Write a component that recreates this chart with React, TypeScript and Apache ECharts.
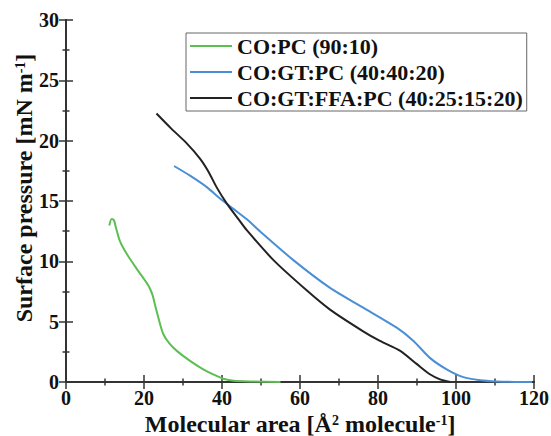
import React, { useEffect, useRef } from "react";
import * as echarts from "echarts";

const seriesNames = ["CO:PC (90:10)", "CO:GT:PC (40:40:20)", "CO:GT:FFA:PC (40:25:15:20)"];

const greenX = [11.1, 11.7, 12.3, 12.8, 13.8, 15.6, 18.1, 20.3, 21.3, 22.2, 22.9, 23.7, 24.9, 26.5, 28.4, 31.8, 35.2, 38.6, 40.3, 43, 48, 55];
const greenY = [12.97, 13.5, 13.4, 12.8, 11.7, 10.6, 9.4, 8.4, 7.9, 7.2, 6.3, 5.3, 4.0, 3.2, 2.58, 1.75, 1.05, 0.5, 0.27, 0.1, 0.04, 0.0];

const blueX = [27.7, 31.8, 36.1, 39.5, 42.9, 46.3, 49.7, 58.3, 67.7, 76.0, 84.8, 89.1, 93.3, 97.6, 101.9, 106.2, 110.4, 115, 119.5];
const blueY = [17.9, 17.1, 16.15, 15.2, 14.35, 13.5, 12.5, 10.1, 7.8, 6.2, 4.5, 3.4, 2.0, 1.05, 0.4, 0.15, 0.05, 0.01, 0];

const blackX = [23.2, 27.0, 30.9, 34.4, 36.5, 38.6, 41.2, 44.2, 46.3, 53.2, 61.7, 67.7, 76.2, 80.5, 85.6, 89.9, 93.3, 95.9, 98.5];
const blackY = [22.25, 21.0, 19.8, 18.5, 17.45, 16.15, 14.8, 13.5, 12.6, 10.1, 7.6, 6.0, 4.2, 3.4, 2.6, 1.5, 0.64, 0.22, 0];

const xTicks = { min: 0, max: 120, interval: 20 };
const yTicks = { min: 0, max: 30, interval: 5 };

const colors = ["#5cbf52", "#4a8fd6", "#222222"];
const FONT = "Liberation Serif";

function pairs(xs: number[], ys: number[]) {
  return xs.map((x, i) => [x, ys[i]]);
}

export default function App() {
  const ref = useRef<HTMLDivElement>(null);
  useEffect(() => {
    if (!ref.current) return;
    const chart = echarts.init(ref.current, null, { renderer: "svg" });
    const axisLine = { show: true, lineStyle: { color: "#333", width: 2 } };
    const axisTick = { show: true, inside: true, length: 7, lineStyle: { color: "#333", width: 1.5 } };
    const minorTick = { show: true, splitNumber: 2, length: 3.5, lineStyle: { color: "#333", width: 1.5 } };
    const tickRich = {
      t: { fontFamily: FONT, fontWeight: "bold" as const, fontSize: 20, color: "#111" },
    };
    const richName = {
      n: { fontFamily: FONT, fontWeight: "bold" as const, fontSize: 24, color: "#111", lineHeight: 22 },
      s: { fontFamily: FONT, fontWeight: "bold" as const, fontSize: 14, color: "#111", verticalAlign: "top" as const, lineHeight: 22 },
    };
    const data = [pairs(greenX, greenY), pairs(blueX, blueY), pairs(blackX, blackY)];
    chart.setOption({
      animation: false,
      grid: { left: 66, right: 17, top: 20, bottom: 54, containLabel: false, outerBoundsMode: "none" },
      legend: {
        orient: "vertical",
        left: 186,
        top: 33,
        data: seriesNames.map((name) => ({ name, icon: "rect" })),
        itemWidth: 42,
        itemHeight: 2,
        itemGap: 4,
        padding: [2, 4, 2, 4],
        borderColor: "#666",
        borderWidth: 1,
        borderRadius: 0,
        formatter: (name: string) => `{l|${name}}`,
        textStyle: {
          fontFamily: FONT,
          fontWeight: "bold",
          fontSize: 22,
          color: "#111",
          rich: { l: { fontFamily: FONT, fontWeight: "bold", fontSize: 22, color: "#111" } },
        },
      },
      xAxis: [
        {
          type: "value",
          min: xTicks.min,
          max: xTicks.max,
          interval: xTicks.interval,
          position: "bottom",
          axisLine,
          axisTick,
          minorTick,
          splitLine: { show: false },
          axisLabel: { margin: 6, formatter: (v: number) => `{t|${v}}`, rich: tickRich },
          name: "{n|Molecular area [Å}{s|2}{n| molecule}{s|-1}{n|]}",
          nameLocation: "middle",
          nameGap: 31,
          nameMoveOverlap: false,
          nameTextStyle: { rich: richName },
        },
        {
          type: "value",
          min: xTicks.min,
          max: xTicks.max,
          interval: xTicks.interval,
          position: "top",
          axisLine,
          axisTick,
          minorTick,
          splitLine: { show: false },
          axisLabel: { show: false },
        },
      ],
      yAxis: [
        {
          type: "value",
          min: yTicks.min,
          max: yTicks.max,
          interval: yTicks.interval,
          position: "left",
          axisLine,
          axisTick,
          minorTick,
          splitLine: { show: false },
          axisLabel: { margin: 7, formatter: (v: number) => `{t|${v}}`, rich: tickRich },
          name: "{n|Surface pressure [mN m}{s|-1}{n|]}",
          nameLocation: "middle",
          nameGap: 31,
          nameRotate: 90,
          nameMoveOverlap: false,
          nameTextStyle: { rich: richName, padding: [0, 0, 0, 26] },
        },
        {
          type: "value",
          min: yTicks.min,
          max: yTicks.max,
          interval: yTicks.interval,
          position: "right",
          axisLine,
          axisTick,
          minorTick,
          splitLine: { show: false },
          axisLabel: { show: false },
        },
      ],
      series: seriesNames.map((name, i) => ({
        name,
        type: "line",
        data: data[i],
        smooth: 0.25,
        symbol: "none",
        xAxisIndex: 0,
        yAxisIndex: 0,
        lineStyle: { color: colors[i], width: 2 },
        itemStyle: { color: colors[i] },
      })),
    });
    return () => chart.dispose();
  }, []);
  return <div ref={ref} style={{ width: 551, height: 436, position: "absolute", left: 0, top: 0 }} />;
}
